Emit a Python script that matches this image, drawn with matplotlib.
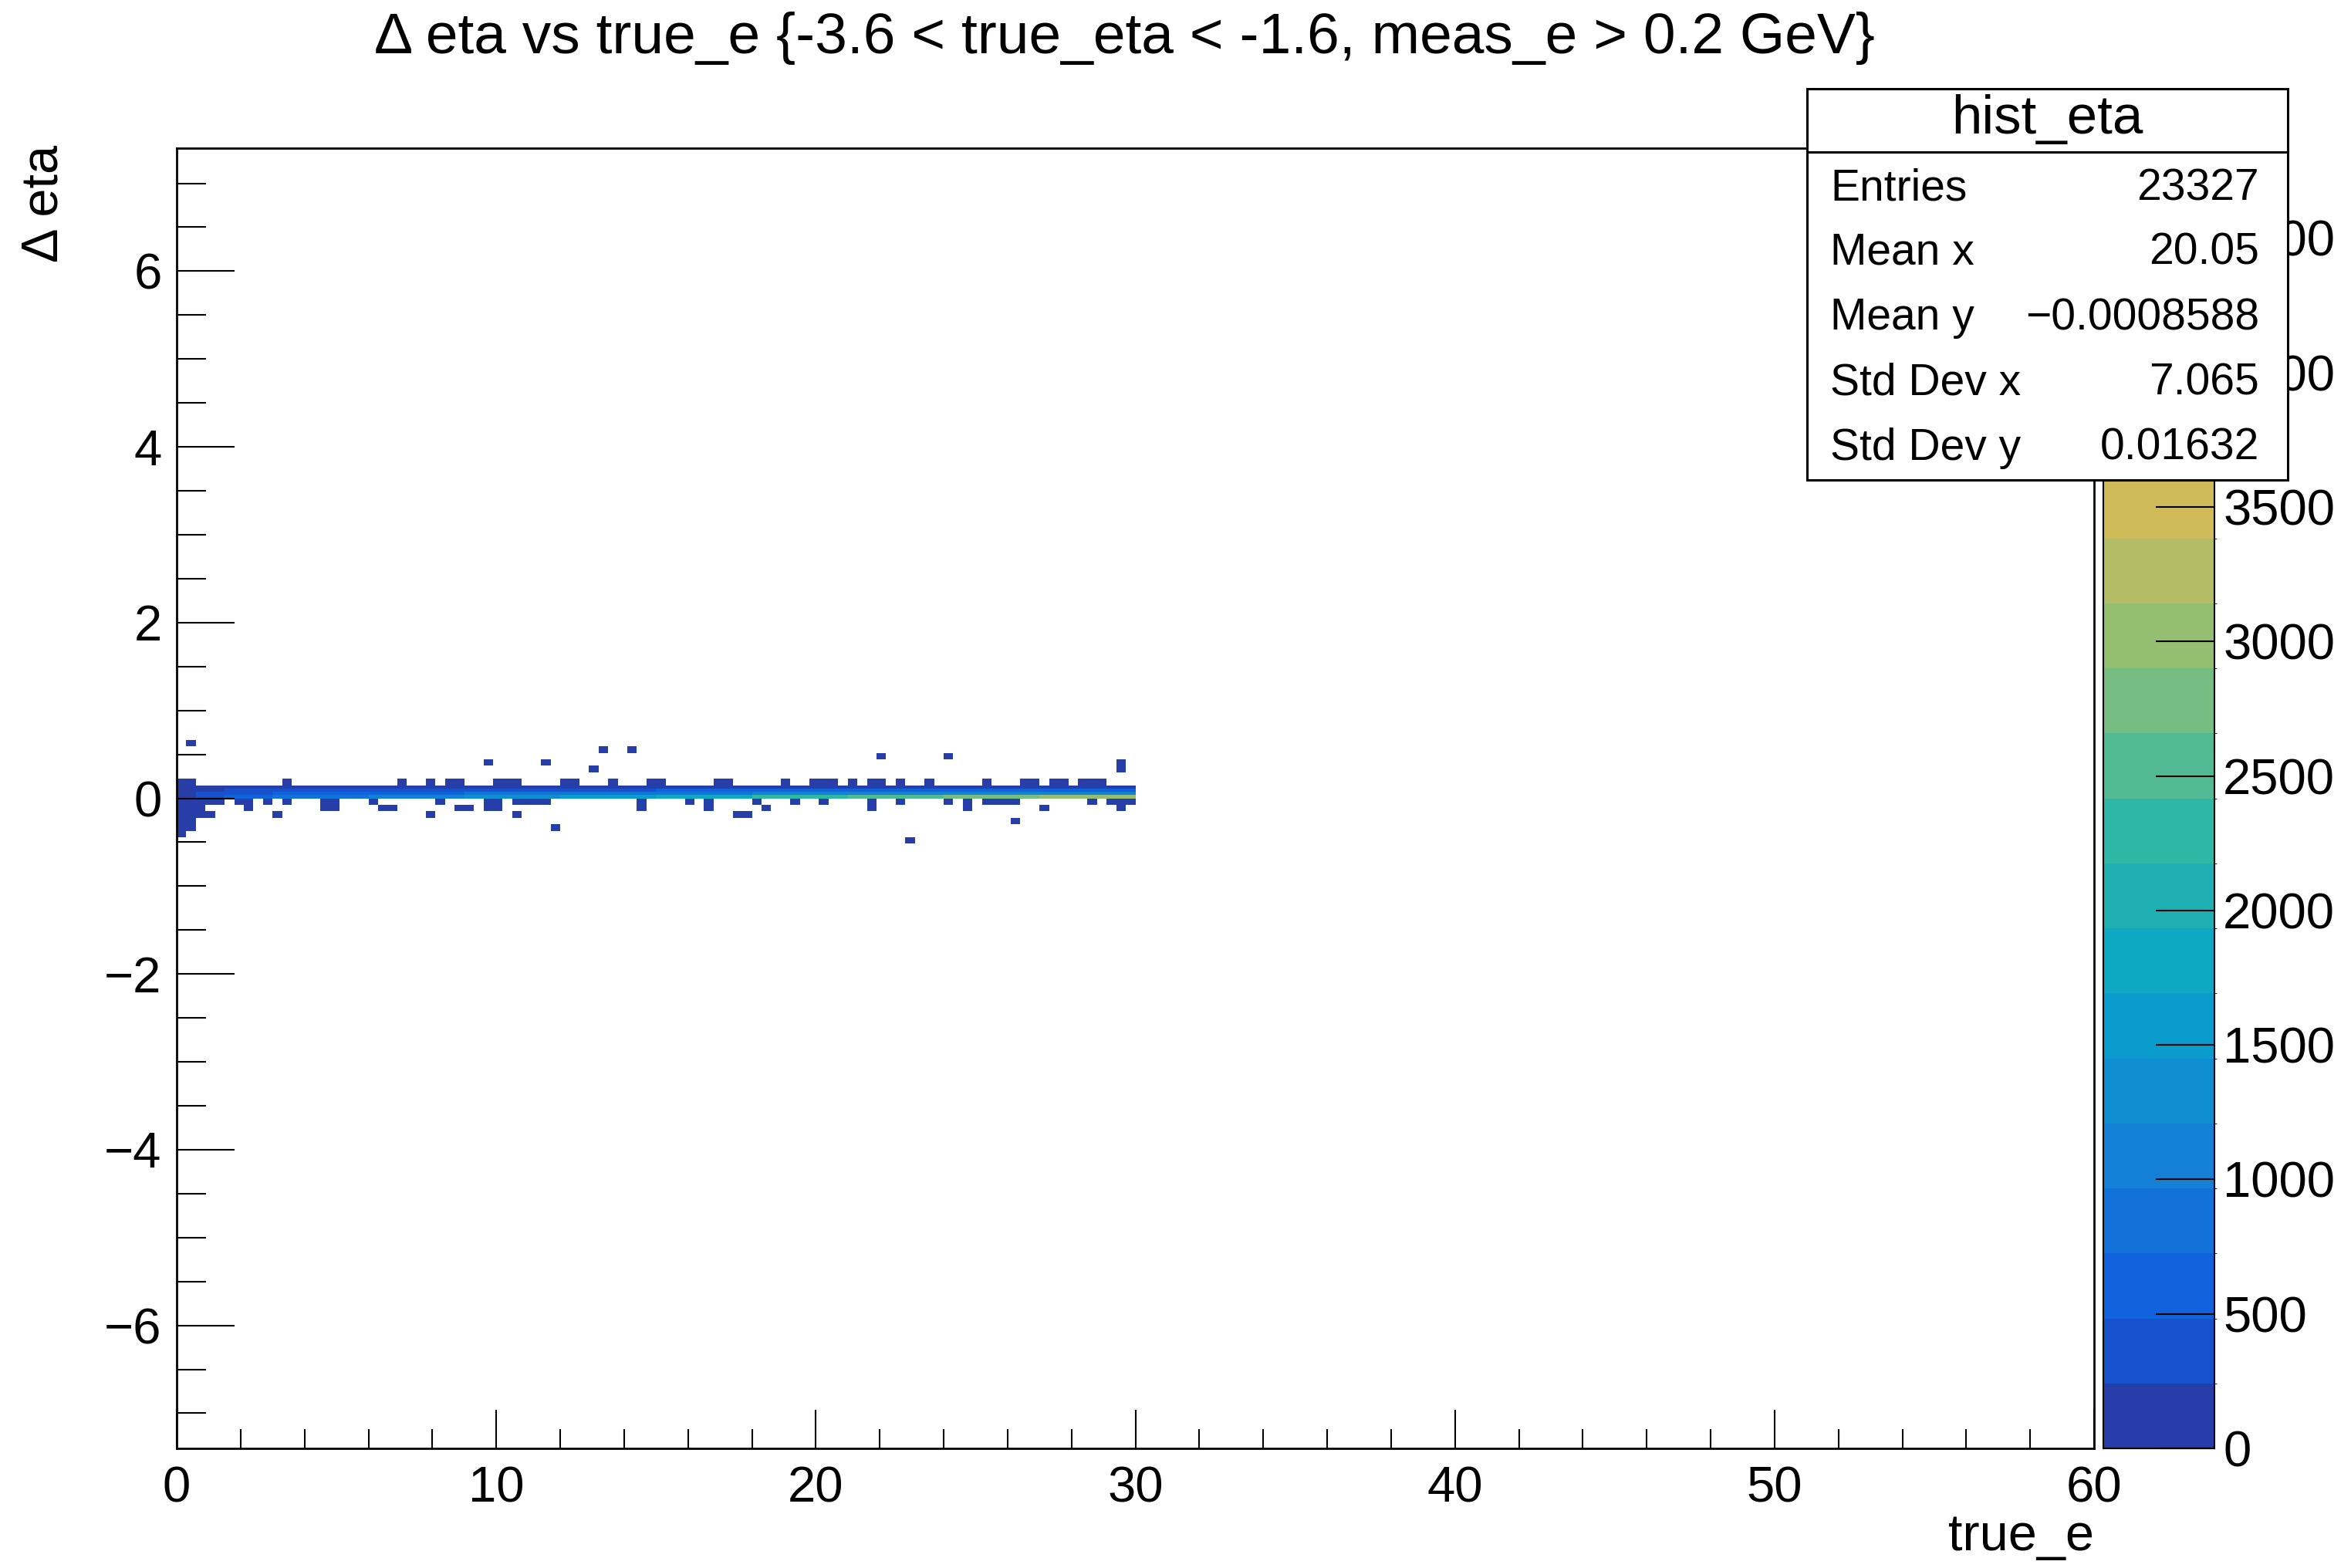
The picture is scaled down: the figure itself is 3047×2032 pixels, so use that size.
import numpy as np
import matplotlib
matplotlib.use("Agg")
import matplotlib.pyplot as plt
from matplotlib.colors import LinearSegmentedColormap, ListedColormap, BoundaryNorm
from matplotlib.patches import Rectangle
from matplotlib.lines import Line2D

plt.rcParams["font.family"] = ["Liberation Sans", "DejaVu Sans"]

# ---- texts ----
title = "\u0394 eta vs true_e {-3.6 < true_eta < -1.6, meas_e > 0.2 GeV}"
x_label = "true_e"
y_label = "\u0394 eta"
hist_name = "hist_eta"
stat_names = ["Entries", "Mean x", "Mean y", "Std Dev x", "Std Dev y"]
stat_values = ["23327", "20.05", "\u22120.0008588", "7.065", "0.01632"]

# ---- binning / z range ----
x_lo, x_hi, x_step = 0.0, 60.0, 0.3
y_lo, y_hi, y_step = -7.4, 7.4, 0.074
band_split = [0.0, 0.037, 0.074, 0.111]   # finer rows inside the main band
z_max = 4834
n_levels = 20

# ---- main band (eta ~ 0): counts per sub-row for each true_e segment ----
band_edges = [0, 0.6, 1.5, 3, 6, 9, 12, 15, 18, 21, 24, 27, 30]
band_r0 = [150, 300, 500, 800, 1100, 1400, 1600, 1900, 2200, 2500, 2800, 3100]
band_r1 = [150, 250, 350, 500, 650, 800, 900, 950, 1000, 1050, 1100, 1150]
band_r2 = [120, 200, 300, 350, 400, 450, 480, 500, 520, 540, 560, 580]
band_r3 = [80, 100, 120, 130, 140, 150, 160, 170, 180, 190, 200, 210]
band_rows = [band_r0, band_r1, band_r2, band_r3]
band_row_eta = [0.0185, 0.0555, 0.0925, 0.1295]

# ---- low-energy spread below the band ----
left_x = [0.15] * 7 + [0.45] * 6 + [0.75] * 3
left_y = [-0.407, -0.333, -0.259, -0.185, -0.111, -0.037, 0.185,
          -0.333, -0.259, -0.185, -0.111, -0.037, 0.185,
          -0.185, -0.111, -0.037]
left_n = 150

# ---- single sparse cells ----
bump_x = [3.45, 7.05, 7.95, 8.55, 8.85, 10.05, 10.35, 10.65, 12.15, 12.45,
          13.65, 14.85, 15.15, 17.05, 17.25, 19.05, 19.95, 20.25, 20.55, 21.15,
          21.75, 22.05, 22.65, 23.55, 25.35, 26.55, 26.85, 27.45, 27.75, 28.35,
          28.65, 28.95]
below1_x = [1.05, 1.35, 1.95, 2.25, 2.75, 3.45, 4.65, 4.95, 6.15, 8.25, 9.75,
            10.05, 10.65, 10.95, 11.25, 11.55, 14.55, 16.05, 16.65, 18.15,
            19.35, 20.25, 21.75, 22.65, 24.15, 24.75, 25.35, 25.65, 26.05,
            26.25, 28.65, 29.25, 29.55, 29.85]
below2_x = [2.25, 4.65, 4.95, 6.45, 6.75, 8.85, 9.15, 9.75, 10.05, 14.55,
            16.65, 18.45, 21.75, 24.75, 27.15, 29.55]
below3_x = [1.05, 3.15, 7.95, 10.65, 17.55, 17.85]
far_x = [0.45, 9.75, 11.55, 13.05, 13.35, 14.25, 22.05, 24.15, 29.55, 29.55,
         11.85, 22.95, 26.25]
far_y = [0.60, 0.37, 0.37, 0.30, 0.53, 0.53, 0.46, 0.46, 0.30, 0.37,
         -0.36, -0.45, -0.29]
sparse_n = 60

# kBird palette stops (ROOT)
bird_stops = [0.0, 0.125, 0.25, 0.375, 0.5, 0.625, 0.75, 0.875, 1.0]
bird_r = [0.2082, 0.0592, 0.0780, 0.0232, 0.1802, 0.5301, 0.8186, 0.9956, 0.9764]
bird_g = [0.1664, 0.3599, 0.5041, 0.6419, 0.7178, 0.7492, 0.7328, 0.7862, 0.9832]
bird_b = [0.5293, 0.8684, 0.8385, 0.7914, 0.6425, 0.4662, 0.3499, 0.1968, 0.0539]


def main() -> None:
    # collect weighted fills
    xs, ys, ws = [], [], []
    for i in range(len(band_edges) - 1):
        centers = np.arange(band_edges[i] + x_step / 2, band_edges[i + 1], x_step)
        for row, eta in zip(band_rows, band_row_eta):
            for xc in centers:
                xs.append(xc)
                ys.append(eta)
                ws.append(row[i])
    for xc, yc in zip(left_x, left_y):
        xs.append(xc); ys.append(yc); ws.append(left_n)
    for lst, eta in [(bump_x, 0.185), (below1_x, -0.037),
                     (below2_x, -0.111), (below3_x, -0.185)]:
        for xc in lst:
            xs.append(xc); ys.append(eta); ws.append(sparse_n)
    for xc, yc in zip(far_x, far_y):
        xs.append(xc); ys.append(yc); ws.append(sparse_n)

    x_edges = np.round(np.arange(x_lo, x_hi + 1e-6, x_step), 4)
    y_edges = np.round(np.concatenate([
        np.arange(y_lo, -1e-6, y_step),
        band_split,
        np.arange(0.148, y_hi + 1e-6, y_step)]), 4)

    H, xe, ye = np.histogram2d(xs, ys, bins=[x_edges, y_edges], weights=ws)
    H = np.ma.masked_less_equal(H.T, 0)

    bird = LinearSegmentedColormap.from_list(
        "bird", list(zip(bird_stops, zip(bird_r, bird_g, bird_b))))
    cmap = ListedColormap(bird((np.arange(n_levels) + 0.99) / n_levels))
    norm = BoundaryNorm(np.linspace(0, z_max, n_levels + 1), n_levels)

    W, Hpx = 3047, 2032
    fig = plt.figure(figsize=(W / 100, Hpx / 100), dpi=100)
    fig.patch.set_facecolor("white")

    ax_l, ax_r, ax_t, ax_b = 229, 2714, 192, 1877
    ax = fig.add_axes([ax_l / W, 1 - ax_b / Hpx, (ax_r - ax_l) / W, (ax_b - ax_t) / Hpx])
    mesh = ax.pcolormesh(xe, ye, H, cmap=cmap, norm=norm)
    ax.set_xlim(x_lo, x_hi)
    ax.set_ylim(y_lo, y_hi)
    ax.set_xticks(np.arange(0, 61, 10))
    ax.set_xticks(np.arange(0, 61, 2), minor=True)
    ax.set_yticks(np.arange(-6, 7, 2))
    ax.set_yticks(np.arange(-7, 7.01, 0.5), minor=True)
    for s in ax.spines.values():
        s.set_linewidth(2.0)
    ax.tick_params(axis="x", which="major", direction="in", length=36, width=1.5,
                   labelsize=47, pad=16, top=False)
    ax.tick_params(axis="x", which="minor", direction="in", length=18, width=1.5, top=False)
    ax.tick_params(axis="y", which="major", direction="in", length=54, width=1.5,
                   labelsize=47, pad=14, right=False)
    ax.tick_params(axis="y", which="minor", direction="in", length=27, width=1.5, right=False)

    # palette
    cb_l, cb_r = 2726, 2870
    cax = fig.add_axes([cb_l / W, 1 - ax_b / Hpx, (cb_r - cb_l) / W, (ax_b - ax_t) / Hpx])
    cb = fig.colorbar(mesh, cax=cax, ticks=np.arange(0, 4501, 500))
    cb.outline.set_linewidth(1.5)
    cax.yaxis.set_ticks_position("right")
    cax.tick_params(direction="in", length=55, width=1.5, labelsize=47, pad=8)
    cax.set_yticklabels([str(v) for v in range(0, 4501, 500)])

    # titles
    fig.text(1457 / W, 1 - 49 / Hpx, title, ha="center", va="center", fontsize=54)
    fig.text(ax_r / W, 1 - 1992 / Hpx, x_label, ha="right", va="center", fontsize=48)
    fig.text(58 / W, 1 - 188 / Hpx, y_label, ha="center", va="top", rotation=90, fontsize=48)

    # stats box (drawn over the palette labels, as in ROOT)
    bx_l, bx_r, bx_t, bx_b, bx_h = 2342, 2965, 115, 622, 197
    fig.add_artist(Rectangle((bx_l / W, 1 - bx_b / Hpx), (bx_r - bx_l) / W,
                             (bx_b - bx_t) / Hpx, transform=fig.transFigure,
                             facecolor="white", edgecolor="black", linewidth=2.2, zorder=5))
    fig.add_artist(Line2D([bx_l / W, bx_r / W], [1 - bx_h / Hpx, 1 - bx_h / Hpx],
                          transform=fig.transFigure, color="black", linewidth=2.2, zorder=6))
    fig.text((bx_l + bx_r) / 2 / W, 1 - 155 / Hpx, hist_name, ha="center", va="center",
             fontsize=51, zorder=7)
    row_y = [245, 328, 412, 497, 581]
    for name, val, yy in zip(stat_names, stat_values, row_y):
        fig.text(2372 / W, 1 - yy / Hpx, name, ha="left", va="center", fontsize=41, zorder=7)
        fig.text(2928 / W, 1 - yy / Hpx, val, ha="right", va="center", fontsize=41, zorder=7)

    fig.savefig("out.png", dpi=100)
    plt.close(fig)


if __name__ == "__main__":
    main()
